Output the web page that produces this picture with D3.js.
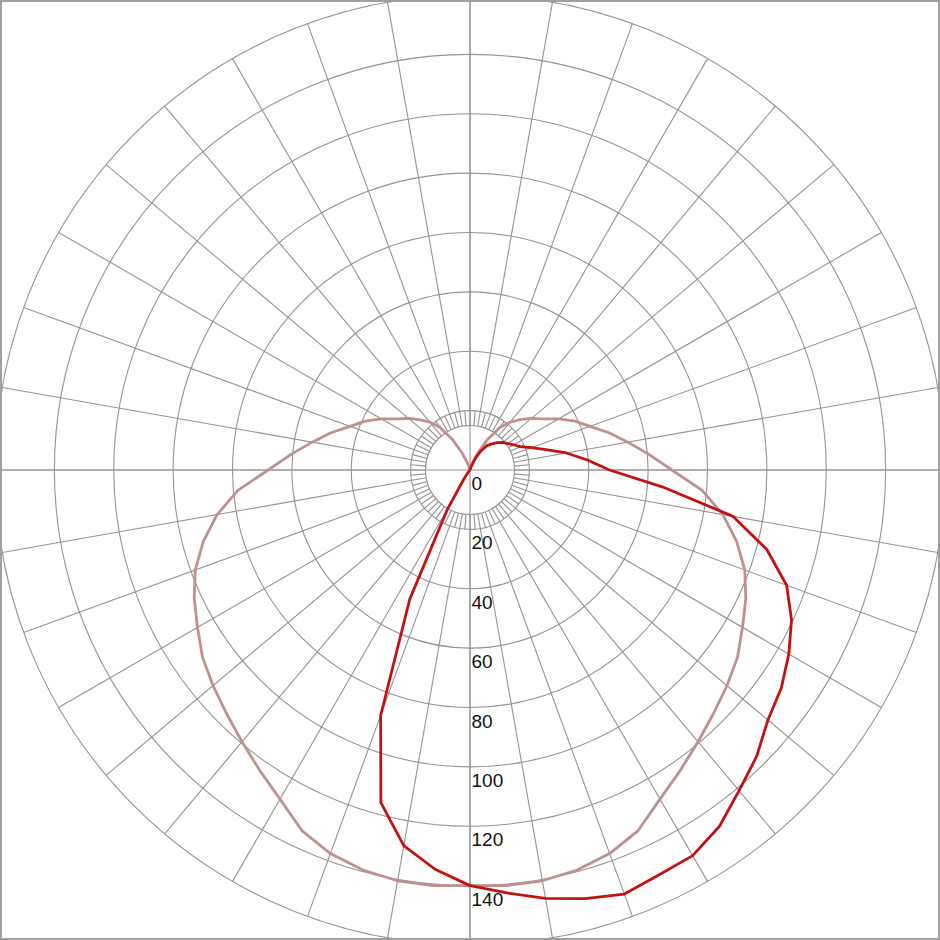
<!DOCTYPE html>
<html>
<head>
<meta charset="utf-8">
<script src="https://cdn.jsdelivr.net/npm/d3@7"></script>
<style>
  html, body { margin: 0; padding: 0; background: #fff; }
  svg { display: block; }
</style>
</head>
<body>
<svg id="chart" width="940" height="940"></svg>
<script>
// Angles (degrees from nadir, one half of the plane)
const angles = [0,5,10,15,20,25,30,35,40,45,50,55,60,65,70,75,80,85,90,95,100,105,110,115,120,125,130,135,140,145,150,155,160,165,170,175,180];
// Symmetric plane (drawn on both sides)
const planeSymValues = [140,140.5,140.5,139.5,137.5,134,128,123.5,119.5,116,113,110,106,102.5,98.5,93,86.5,78.5,68,60.5,54,48.5,43,39,34.5,30,27,24,21,17.5,12,6.5,2.5,0.5,0,0,0];
// Asymmetric plane, right half
const planeAsymRight = [140,143,146.5,149.5,152,150.5,150,146.5,141,136.5,131,128,124,119.5,113.5,103.5,90,65,47,39.5,33,26.5,22,18.6,17,15.5,14.5,13,11.5,10,7.5,4.5,1.5,0.5,0,0,0];
// Asymmetric plane, left half
const planeAsymLeft = [140,135,128.5,116,88,48,15,3,0.5,0,0,0,0,0,0,0,0,0,0,0,0,0,0,0,0,0,0,0,0,0,0,0,0,0,0,0,0];
// Ring tick labels
const ringLabels = [0,20,40,60,80,100,120,140];
const ringValues = [20,40,60,80,100,120,140,160];
const innerRing = 15;

const W = 940, H = 940, cx = 470, cy = 470;
const svg = d3.select("#chart");
const r = d3.scaleLinear().domain([0, 160]).range([0, 475]);
const g = svg.append("g").attr("transform", `translate(${cx},${cy})`);

const gridColor = "#939393";
const rad = d => d * Math.PI / 180;

// rings
g.selectAll("circle.ring").data([innerRing].concat(ringValues)).enter()
  .append("circle").attr("class","ring")
  .attr("r", d => r(d)).attr("fill","none")
  .attr("stroke", gridColor).attr("stroke-width", 1.1);

// spokes every 10 degrees
const spokeAngles = d3.range(0, 360, 10);
g.selectAll("line.spoke").data(spokeAngles).enter()
  .append("line").attr("class","spoke")
  .attr("x1", d => r(innerRing) * Math.sin(rad(d)))
  .attr("y1", d => r(innerRing) * Math.cos(rad(d)))
  .attr("x2", d => r(160) * Math.sin(rad(d)))
  .attr("y2", d => r(160) * Math.cos(rad(d)))
  .attr("stroke", gridColor).attr("stroke-width", 1.1);

// short ticks between inner ring and first ring
const tickAngles = d3.range(5, 360, 10);
g.selectAll("line.tick").data(tickAngles).enter()
  .append("line").attr("class","tick")
  .attr("x1", d => r(innerRing) * Math.sin(rad(d)))
  .attr("y1", d => r(innerRing) * Math.cos(rad(d)))
  .attr("x2", d => r(20) * Math.sin(rad(d)))
  .attr("y2", d => r(20) * Math.cos(rad(d)))
  .attr("stroke", gridColor).attr("stroke-width", 1.1);

// main axes through center
g.append("line").attr("x1", -cx).attr("x2", W - cx).attr("y1", 0).attr("y2", 0)
  .attr("stroke", gridColor).attr("stroke-width", 1.1);
g.append("line").attr("y1", -cy).attr("y2", H - cy).attr("x1", 0).attr("x2", 0)
  .attr("stroke", gridColor).attr("stroke-width", 1.1);

// build full-plane point sets: theta from -180..180 (from nadir, + to the right)
function buildPlane(leftVals, rightVals) {
  const pts = [];
  for (let i = angles.length - 1; i >= 1; i--) pts.push({a: -angles[i], v: leftVals[i]});
  for (let i = 0; i < angles.length; i++) pts.push({a: angles[i], v: rightVals[i]});
  return pts;
}
const line = d3.lineRadial()
  .angle(d => Math.PI - rad(d.a))
  .radius(d => r(d.v))
  .curve(d3.curveLinear);

g.append("path").datum(buildPlane(planeSymValues, planeSymValues))
  .attr("d", line).attr("fill","none")
  .attr("stroke", "#c09090").attr("stroke-width", 2.8).attr("stroke-linejoin","round");

g.append("path").datum(buildPlane(planeAsymLeft, planeAsymRight))
  .attr("d", line).attr("fill","none")
  .attr("stroke", "#c21212").attr("stroke-width", 2.8).attr("stroke-linejoin","round");

// ring labels
g.selectAll("text.lbl").data(ringLabels).enter()
  .append("text").attr("class","lbl")
  .attr("x", 1.5)
  .attr("y", d => r(d) + 20)
  .attr("font-family", "Liberation Sans, Arial, sans-serif")
  .attr("font-size", 19)
  .attr("fill", "#111")
  .text(d => d);

// frame
svg.append("rect").attr("x", 1).attr("y", 1).attr("width", W - 2).attr("height", H - 2)
  .attr("fill","none").attr("stroke", "#a0a0a0").attr("stroke-width", 2);
</script>
</body>
</html>
